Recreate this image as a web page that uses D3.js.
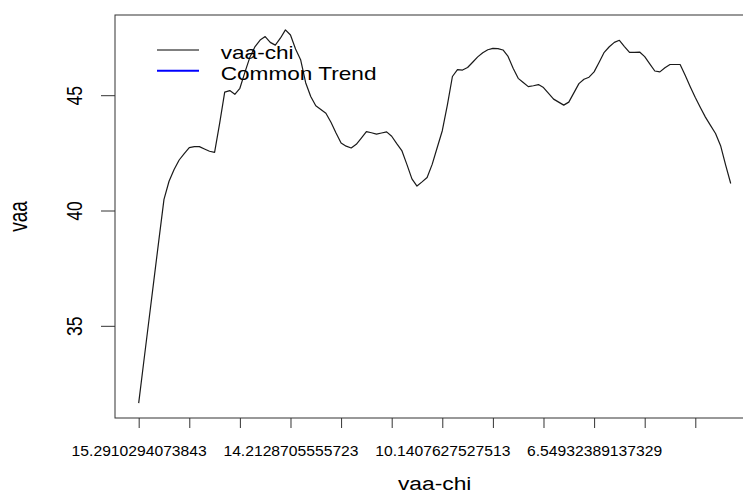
<!DOCTYPE html>
<html>
<head>
<meta charset="utf-8">
<script src="https://cdn.jsdelivr.net/npm/d3@7"></script>
<style>
  html, body { margin: 0; padding: 0; background: #fff; }
  svg { display: block; }
  text { font-family: "Liberation Sans", Arial, sans-serif; fill: #000; }
</style>
</head>
<body>
<svg id="chart" width="743" height="495"></svg>
<script>
// Series: vaa values along the vaa-chi index
const values = [
  31.65, 33.43, 35.20, 36.97, 38.74, 40.48, 41.27, 41.78, 42.19, 42.47,
  42.73, 42.77, 42.77, 42.67, 42.57, 42.52, 43.78, 45.13, 45.20, 45.04,
  45.30, 46.00, 46.66, 47.11, 47.39, 47.54, 47.29, 47.17, 47.47, 47.83,
  47.61, 47.00, 46.54, 45.54, 44.94, 44.54, 44.38, 44.22, 43.83, 43.36,
  42.93, 42.79, 42.71, 42.87, 43.14, 43.42, 43.37, 43.31, 43.36, 43.41,
  43.22, 42.90, 42.60, 42.00, 41.37, 41.06, 41.24, 41.43, 42.00, 42.73,
  43.46, 44.57, 45.81, 46.11, 46.09, 46.20, 46.43, 46.66, 46.84, 46.97,
  47.03, 47.02, 46.96, 46.68, 46.17, 45.73, 45.55, 45.37, 45.41, 45.46,
  45.33, 45.08, 44.83, 44.70, 44.57, 44.70, 45.10, 45.50, 45.69, 45.78,
  46.01, 46.43, 46.86, 47.10, 47.29, 47.38, 47.11, 46.86, 46.86, 46.87,
  46.67, 46.36, 46.05, 46.01, 46.19, 46.33, 46.33, 46.33, 45.86, 45.37,
  44.90, 44.47, 44.05, 43.69, 43.34, 42.81, 41.97, 41.17
];

// Axis ticks and labels
const xTicks = [0, 10, 20, 30, 40, 50, 60, 70, 80, 90, 100, 110, 120];
const xLabelTicks = [0, 30, 60, 90];
const xLabelTexts = ["15.2910294073843", "14.2128705555723", "10.1407627527513", "6.54932389137329"];
const yTicks = [35, 40, 45];

const legendNames = ["vaa-chi", "Common Trend"];
const legendColors = ["#000000", "#0000ff"];
const legendWidths = [1, 2];

const svg = d3.select("#chart");
const W = 743, H = 495;
svg.append("rect").attr("width", W).attr("height", H).attr("fill", "#fff");

// Plot region (extends past the right edge of the window)
const plotLeft = 115, plotTop = 15, plotBottom = 418, plotW = 639.4;
const n = values.length;
const xPad = 0.04 * (n - 1);
const x = d3.scaleLinear().domain([-xPad, (n - 1) + xPad]).range([plotLeft, plotLeft + plotW]);
const [vMin, vMax] = d3.extent(values);
const yPad = 0.04 * (vMax - vMin);
const y = d3.scaleLinear().domain([vMin - yPad, vMax + yPad]).range([plotBottom, plotTop]);

const stroke = "#333";

// Box
svg.append("rect")
  .attr("x", plotLeft).attr("y", plotTop)
  .attr("width", plotW).attr("height", plotBottom - plotTop)
  .attr("fill", "none").attr("stroke", stroke).attr("stroke-width", 1);

// X axis
const labelMap = new Map(xLabelTicks.map((t, i) => [t, xLabelTexts[i]]));
const xAxis = svg.append("g")
  .attr("transform", `translate(0,${plotBottom})`)
  .call(d3.axisBottom(x).tickValues(xTicks).tickSize(10).tickSizeOuter(0)
    .tickFormat(d => labelMap.get(d) || ""));
xAxis.select(".domain").remove();
xAxis.selectAll(".tick line").attr("stroke", stroke);
xAxis.selectAll(".tick text")
  .attr("y", 38.5).attr("dy", null)
  .attr("font-size", 14)
  .attr("font-family", "Liberation Sans, Arial, sans-serif")
  .attr("fill", "#000")
  .attr("transform", "scale(1.12,1)");

// Y axis
const yAxis = svg.append("g")
  .attr("transform", `translate(${plotLeft},0)`)
  .call(d3.axisLeft(y).tickValues(yTicks).tickSize(14).tickSizeOuter(0));
yAxis.select(".domain").remove();
yAxis.selectAll(".tick line").attr("stroke", stroke);
yAxis.selectAll(".tick text")
  .attr("x", null).attr("dy", null).attr("y", 0)
  .attr("text-anchor", "middle")
  .attr("font-size", 17.5)
  .attr("font-family", "Liberation Sans, Arial, sans-serif")
  .attr("fill", "#000")
  .attr("transform", "translate(-33.3,0) rotate(-90) scale(1,1.3)");

// Axis titles
svg.append("text")
  .attr("transform", `translate(${(plotLeft + plotLeft + plotW) / 2},490) scale(1.2,1)`)
  .attr("text-anchor", "middle")
  .attr("font-size", 19)
  .text("vaa-chi");

svg.append("text")
  .attr("transform", `translate(26.7,${(plotTop + plotBottom) / 2}) rotate(-90) scale(1,1.35)`)
  .attr("text-anchor", "middle")
  .attr("font-size", 19)
  .text("vaa");

// Series line
const line = d3.line().x((d, i) => x(i)).y(d => y(d));
svg.append("path")
  .datum(values)
  .attr("d", line)
  .attr("fill", "none")
  .attr("stroke", "#1a1a1a")
  .attr("stroke-width", 1.2)
  .attr("stroke-linejoin", "round");

// Legend (no box)
const legend = svg.append("g");
legendNames.forEach((name, i) => {
  const ly = 50 + i * 20.7;
  legend.append("line")
    .attr("x1", 157).attr("x2", 199)
    .attr("y1", ly).attr("y2", ly)
    .attr("stroke", legendColors[i]).attr("stroke-width", legendWidths[i]);
  legend.append("text")
    .attr("transform", `translate(220.7,${ly + 9}) scale(1.19,1)`)
    .attr("font-size", 19)
    .text(name);
});
</script>
</body>
</html>
